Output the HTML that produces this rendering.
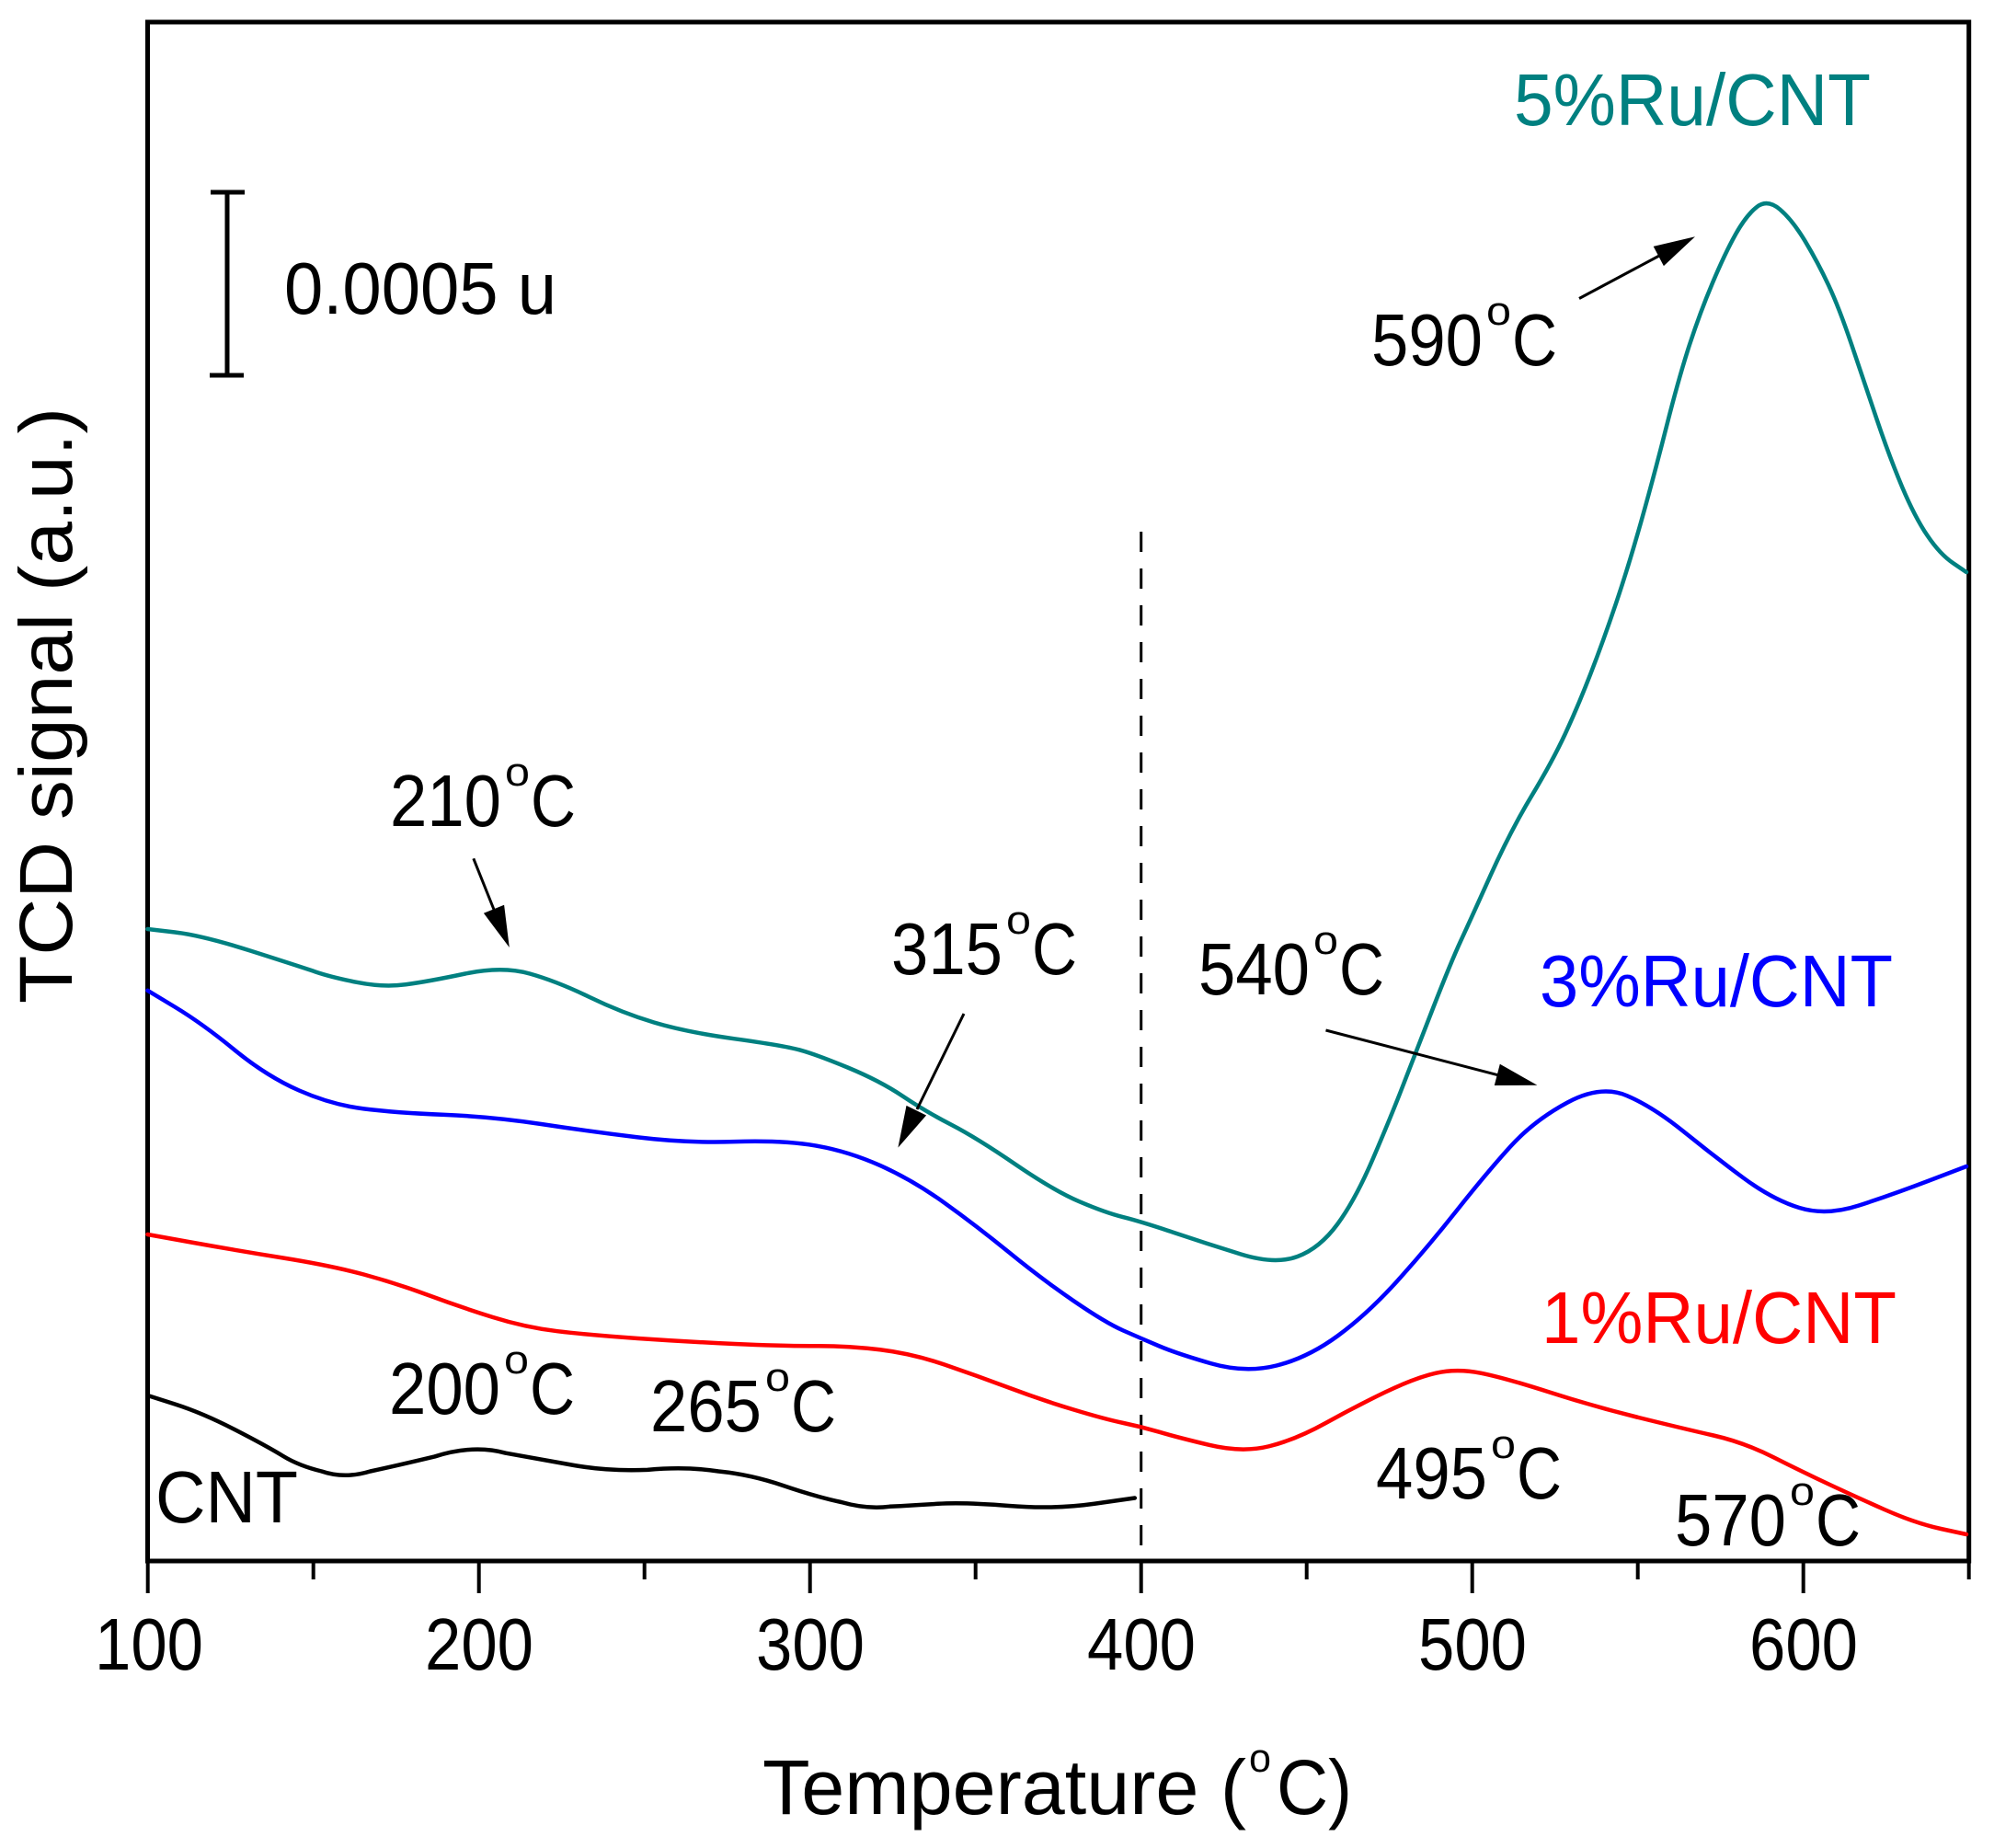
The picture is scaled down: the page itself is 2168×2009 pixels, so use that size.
<!DOCTYPE html>
<html><head><meta charset="utf-8"><style>
html,body{margin:0;padding:0;background:#fff;}
svg{display:block;}
text{font-family:"Liberation Sans",Arial,sans-serif;}
</style></head><body>
<svg width="2168" height="2009" viewBox="0 0 2168 2009" xmlns="http://www.w3.org/2000/svg">
<rect width="2168" height="2009" fill="#fff"/>
<!-- frame -->
<rect x="160.5" y="24" width="1980.2" height="1673" fill="none" stroke="#000" stroke-width="5"/>
<!-- ticks -->
<g stroke="#000" stroke-width="4">
<line x1="160.7" y1="1697" x2="160.7" y2="1732"/>
<line x1="520.7" y1="1697" x2="520.7" y2="1732"/>
<line x1="880.7" y1="1697" x2="880.7" y2="1732"/>
<line x1="1240.7" y1="1697" x2="1240.7" y2="1732"/>
<line x1="1600.7" y1="1697" x2="1600.7" y2="1732"/>
<line x1="1960.7" y1="1697" x2="1960.7" y2="1732"/>
<line x1="340.7" y1="1697" x2="340.7" y2="1717"/>
<line x1="700.7" y1="1697" x2="700.7" y2="1717"/>
<line x1="1060.7" y1="1697" x2="1060.7" y2="1717"/>
<line x1="1420.7" y1="1697" x2="1420.7" y2="1717"/>
<line x1="1780.7" y1="1697" x2="1780.7" y2="1717"/>
<line x1="2140.7" y1="1697" x2="2140.7" y2="1717"/>
</g>
<!-- tick labels -->
<g font-size="80" text-anchor="middle" fill="#000">
<text x="162" y="1815" textLength="118" lengthAdjust="spacingAndGlyphs">100</text>
<text x="521" y="1815" textLength="118" lengthAdjust="spacingAndGlyphs">200</text>
<text x="881" y="1815" textLength="118" lengthAdjust="spacingAndGlyphs">300</text>
<text x="1241" y="1815" textLength="118" lengthAdjust="spacingAndGlyphs">400</text>
<text x="1601" y="1815" textLength="118" lengthAdjust="spacingAndGlyphs">500</text>
<text x="1961" y="1815" textLength="118" lengthAdjust="spacingAndGlyphs">600</text>
</g>
<!-- axis titles -->
<text x="829" y="1972" font-size="84" textLength="526" lengthAdjust="spacingAndGlyphs">Temperature (</text>
<text x="1358" y="1926" font-size="44" textLength="24" lengthAdjust="spacingAndGlyphs">o</text>
<text x="1388" y="1972" font-size="84" textLength="82" lengthAdjust="spacingAndGlyphs">C)</text>
<text transform="translate(78,1091) rotate(-90)" font-size="82" textLength="648" lengthAdjust="spacingAndGlyphs">TCD signal (a.u.)</text>
<!-- scale bar -->
<g stroke="#000" stroke-width="5">
<line x1="247" y1="208" x2="247" y2="409"/>
<line x1="229" y1="209" x2="266" y2="209"/>
<line x1="228" y1="408" x2="265" y2="408"/>
</g>
<text x="309" y="341" font-size="80" textLength="296" lengthAdjust="spacingAndGlyphs">0.0005 u</text>
<!-- dashed line -->
<line x1="1240.7" y1="578" x2="1240.7" y2="1680" stroke="#000" stroke-width="3" stroke-dasharray="22 18"/>
<!-- curves -->
<g fill="none" stroke-width="4.5" stroke-linejoin="round" stroke-linecap="round">
<path stroke="#000" d="M160.5,1517 L190.25,1526.5 Q220,1536 255,1554 Q290,1572 307.5,1582.75 Q325,1593.5 349.75,1599.5 Q374.5,1608 402.55,1599.5 Q430.6,1593.5 472.7,1583.45 Q514.8,1570 549.9,1579.7 Q585,1586 623.5,1592.85 Q662,1599.7 704,1597.85 Q746,1594 781.2,1599.5 Q816.4,1603 851.5,1615 Q886.6,1627 914.65,1633 Q942.7,1641 967.25,1637.8 Q991.8,1636.6 1019.85,1634.8 Q1047.9,1633 1096.95,1637 Q1146,1641 1189.9,1634.75 L1233.8,1628.5"/>
<path stroke="#ff0000" d="M160.5,1342 L207.75,1350.5 Q255,1359 307.75,1367.5 Q360.5,1376 395.55,1385.5 Q430.6,1395 465.7,1408 Q500.8,1421 535.9,1432 Q571,1443 606,1447.2 Q641,1451.4 693.5,1455 Q746,1458.6 798.75,1461 Q851.5,1463.4 886.6,1463.2 Q921.7,1463 956.75,1467.25 Q991.8,1471.5 1026.9,1483.5 Q1062,1495.5 1097,1508.65 Q1132,1521.8 1167,1532.4 Q1202,1543 1221.5,1547 Q1241,1551 1260.25,1556.7 Q1279.5,1562.4 1315.15,1570.95 Q1350.8,1579.5 1379.9,1572.25 Q1409,1565 1441.4,1547 Q1473.8,1529 1506.2,1513.4 Q1538.6,1497.8 1561.3,1492.65 Q1584,1487.5 1609.85,1492.65 Q1635.7,1497.8 1684.35,1513.4 Q1733,1529 1781.5,1541 Q1830,1553 1863,1560.5 Q1896,1568 1927.8,1584 Q1959.6,1600 1987.3,1613 Q2015,1626 2048.8,1641 Q2082.6,1656 2110.3,1662 L2138,1668"/>
<path stroke="#0000ff" d="M160.5,1076.8 L190.25,1094.75 Q220,1112.7 255,1141.35 Q290,1170 325.25,1185.5 Q360.5,1201 395.55,1205.4 Q430.6,1209.8 483.2,1211.9 Q535.8,1214 588.4,1222 Q641,1230 693.5,1236.4 Q746,1242.8 798.75,1241.15 Q851.5,1239.5 886.6,1245.45 Q921.7,1251.4 956.75,1266.95 Q991.8,1282.5 1026.9,1307.65 Q1062,1332.8 1097,1361.4 Q1132,1390 1167,1414 Q1202,1438 1221.35,1446.5 Q1240.7,1455 1260.1,1463.25 Q1279.5,1471.5 1316.75,1482.25 Q1354,1493 1388,1484.5 Q1422,1476 1454.4,1452.25 Q1486.8,1428.5 1519.2,1392.6 Q1551.6,1356.7 1583.95,1315.85 Q1616.3,1275 1642.15,1246.5 Q1668,1218 1704.35,1198.5 Q1740.7,1179 1769.2,1191.3 Q1797.7,1203.6 1830.05,1229.8 Q1862.4,1256 1894.8,1280 Q1927.2,1304 1956.35,1313 Q1985.5,1322 2021.1,1310.5 Q2056.7,1299 2097.35,1283.5 L2138,1268"/>
<path stroke="#008080" d="M160.5,1010 L190.35,1013.5 Q220.2,1017 272.8,1033.75 Q325.4,1050.5 342.95,1056.45 Q360.5,1062.4 388.55,1067.95 Q416.6,1073.5 441.15,1070.25 Q465.7,1067 505.85,1058.5 Q546,1050 576,1058.5 Q606,1067 641,1084 Q676,1101 711,1111.5 Q746,1122 798.75,1129.3 Q851.5,1136.6 869.05,1141.3 Q886.6,1146 921.65,1160.5 Q956.7,1175 981.25,1191.5 Q1005.8,1208 1033.9,1222.5 Q1062,1237 1104,1265.75 Q1146,1294.5 1174,1306.45 Q1202,1318.4 1221.35,1323.2 Q1240.7,1328 1276.35,1340 Q1312,1352 1349.2,1363.5 Q1386.4,1375 1410.7,1366 Q1435,1357 1454.4,1330.5 Q1473.8,1304 1493.25,1258.5 Q1512.7,1213 1525.65,1179.5 Q1538.6,1146 1558.05,1096 Q1577.5,1046 1588.15,1023 Q1598.8,1000 1620.55,951.7 Q1642.3,903.4 1665.15,865.45 Q1688,827.5 1701.8,797.75 Q1715.6,768 1729.3,732.7 Q1743,697.4 1756.75,656.7 Q1770.5,616 1784.25,567.3 Q1798,518.6 1811.75,464.3 Q1825.5,410 1836.95,374.85 Q1848.4,339.7 1862.1,307.2 Q1875.8,274.7 1887.25,254.35 Q1898.7,234 1910.15,225 Q1921.6,216 1935.3,227.7 Q1949,239.4 1962.8,262.45 Q1976.6,285.5 1988.05,309.9 Q1999.5,334.3 2013.25,374.95 Q2027,415.6 2040.7,456.25 Q2054.4,496.9 2068.15,529.45 Q2081.9,562 2095.6,582.3 Q2109.3,602.6 2123.65,612.3 L2138,622"/>
</g>
<!-- arrows -->
<g stroke="#000" stroke-width="3">
<line x1="1717" y1="324.5" x2="1805" y2="277.5"/>
<line x1="514.8" y1="933.3" x2="537.5" y2="990"/>
<line x1="1048" y1="1102" x2="997" y2="1206"/>
<line x1="1441.5" y1="1120" x2="1629" y2="1168.8"/>
</g>
<g fill="#000">
<polygon points="1843,257.3 1808.9,289.1 1797.7,267.9"/>
<polygon points="553.8,1030 525.9,992.8 548.1,983.8"/>
<polygon points="976.4,1247.6 985.5,1201.9 1007.1,1212.5"/>
<polygon points="1671.4,1179.7 1624.8,1180 1630.8,1156.8"/>
</g>
<!-- temperature labels -->
<g font-size="80" fill="#000">
<text x="1491" y="397" textLength="121" lengthAdjust="spacingAndGlyphs">590</text>
<text x="1616" y="353" font-size="44" textLength="27" lengthAdjust="spacingAndGlyphs">o</text>
<text x="1644" y="397" textLength="49" lengthAdjust="spacingAndGlyphs">C</text>

<text x="424" y="898" textLength="121" lengthAdjust="spacingAndGlyphs">210</text>
<text x="549" y="854" font-size="44" textLength="27" lengthAdjust="spacingAndGlyphs">o</text>
<text x="577" y="898" textLength="49" lengthAdjust="spacingAndGlyphs">C</text>

<text x="969" y="1059" textLength="121" lengthAdjust="spacingAndGlyphs">315</text>
<text x="1094" y="1015" font-size="44" textLength="27" lengthAdjust="spacingAndGlyphs">o</text>
<text x="1122" y="1059" textLength="49" lengthAdjust="spacingAndGlyphs">C</text>

<text x="1303" y="1081" textLength="121" lengthAdjust="spacingAndGlyphs">540</text>
<text x="1428" y="1037" font-size="44" textLength="27" lengthAdjust="spacingAndGlyphs">o</text>
<text x="1456" y="1081" textLength="49" lengthAdjust="spacingAndGlyphs">C</text>

<text x="423" y="1537" textLength="121" lengthAdjust="spacingAndGlyphs">200</text>
<text x="548" y="1493" font-size="44" textLength="27" lengthAdjust="spacingAndGlyphs">o</text>
<text x="576" y="1537" textLength="49" lengthAdjust="spacingAndGlyphs">C</text>

<text x="707" y="1556" textLength="121" lengthAdjust="spacingAndGlyphs">265</text>
<text x="832" y="1512" font-size="44" textLength="27" lengthAdjust="spacingAndGlyphs">o</text>
<text x="860" y="1556" textLength="49" lengthAdjust="spacingAndGlyphs">C</text>

<text x="1496" y="1629" textLength="121" lengthAdjust="spacingAndGlyphs">495</text>
<text x="1621" y="1585" font-size="44" textLength="27" lengthAdjust="spacingAndGlyphs">o</text>
<text x="1649" y="1629" textLength="49" lengthAdjust="spacingAndGlyphs">C</text>

<text x="1821" y="1680" textLength="121" lengthAdjust="spacingAndGlyphs">570</text>
<text x="1946" y="1636" font-size="44" textLength="27" lengthAdjust="spacingAndGlyphs">o</text>
<text x="1974" y="1680" textLength="49" lengthAdjust="spacingAndGlyphs">C</text>
</g>
<!-- series labels -->
<g font-size="80">
<text x="1646" y="136" fill="#008080" textLength="388" lengthAdjust="spacingAndGlyphs">5%Ru/CNT</text>
<text x="1674" y="1094" fill="#0000ff" textLength="384" lengthAdjust="spacingAndGlyphs">3%Ru/CNT</text>
<text x="1676" y="1460" fill="#ff0000" textLength="386" lengthAdjust="spacingAndGlyphs">1%Ru/CNT</text>
<text x="169" y="1655" fill="#000" textLength="155" lengthAdjust="spacingAndGlyphs">CNT</text>
</g>
</svg>
</body></html>
